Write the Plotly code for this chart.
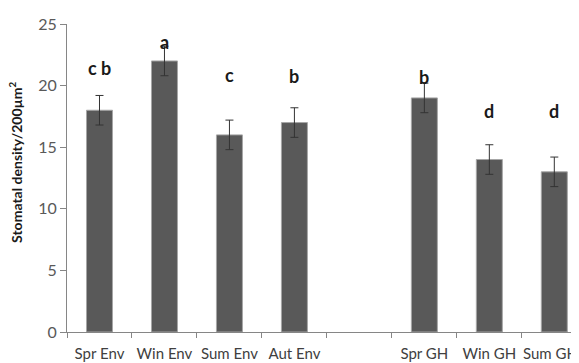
import plotly.graph_objects as go

categories = ["Spr Env", "Win Env", "Sum Env", "Aut Env", " ", "Spr GH", "Win GH", "Sum GH"]
values = [18, 22, 16, 17, None, 19, 14, 13]
errors = [1.2, 1.2, 1.2, 1.2, None, 1.2, 1.2, 1.2]
letters = ["c b", "a", "c", "b", "", "b", "d", "d"]
letter_y = [21.4, 23.5, 20.9, 20.8, None, 20.7, 17.9, 17.9]
y_title = "Stomatal density/200µm<sup>2</sup>"

FONT = "Lato"

# last label sits at the right edge; pad it so it is nudged left like in the reference
tick_text = list(categories)
tick_text[-1] = tick_text[-1] + "\u00a0\u00a0"

fig = go.Figure()
fig.add_trace(go.Bar(
    x=categories, y=values, width=0.4,
    marker=dict(color="#595959", line=dict(color="#a6a6a6", width=1)),
    error_y=dict(type="data", array=errors, visible=True, color="#333333",
                 thickness=1, width=4),
))

for c, t, ly in zip(categories, letters, letter_y):
    if t:
        fig.add_annotation(x=c, y=ly, text="<b>%s</b>" % t, showarrow=False,
                           font=dict(family=FONT, size=18, color="#1a1a1a"))

# y-axis title as a rotated annotation (placed slightly above plot centre as in the reference)
fig.add_annotation(xref="paper", yref="paper", x=-0.0996, y=0.549,
                   text="<b>%s</b>" % y_title, textangle=-90, showarrow=False,
                   xanchor="center", yanchor="middle",
                   font=dict(family=FONT, size=14, color="#1a1a1a"))

# page body has an 8px default margin, so the figure is offset by 8px
fig.update_layout(
    width=571, height=355,
    margin=dict(l=59, r=0, t=16, b=31, autoexpand=False),
    paper_bgcolor="white", plot_bgcolor="white",
    showlegend=False,
    font=dict(family=FONT),
)
fig.update_xaxes(
    type="category", categoryorder="array", categoryarray=categories,
    tickmode="array", tickvals=categories, ticktext=tick_text,
    range=[-0.5, 7.38], automargin=False, tickangle=0,
    showline=True, linecolor="#868686", linewidth=1,
    ticks="outside", tickson="boundaries", ticklen=5, tickcolor="#868686",
    tickfont=dict(family=FONT, size=15, color="#404040"),
    ticklabelstandoff=8,
    showgrid=False, zeroline=False,
)
fig.update_yaxes(
    range=[0, 25], tickvals=[0, 5, 10, 15, 20, 25], automargin=False,
    showline=True, linecolor="#868686", linewidth=1,
    ticks="outside", ticklen=6, tickcolor="#868686",
    tickfont=dict(family=FONT, size=16, color="#595959"),
    showgrid=False, zeroline=False,
)

fig.write_html("out.html")
